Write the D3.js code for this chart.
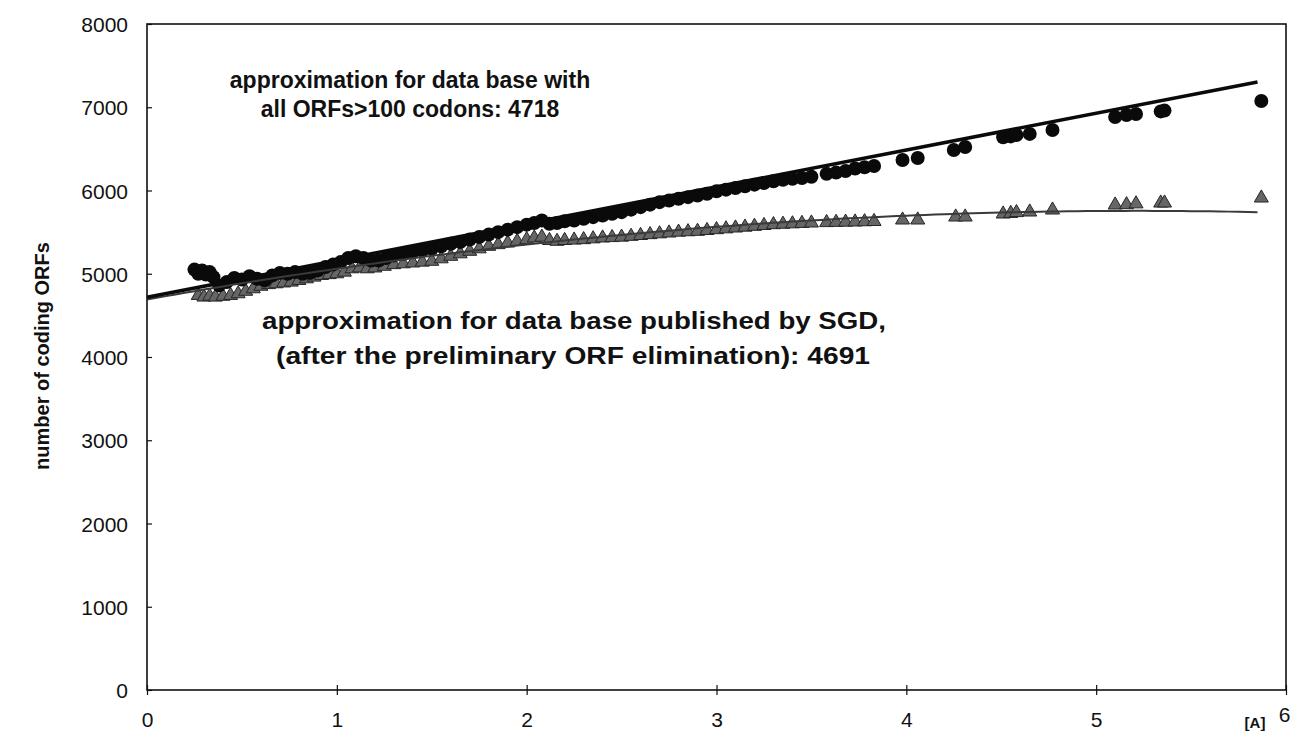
<!DOCTYPE html>
<html>
<head>
<meta charset="utf-8">
<script src="https://cdn.jsdelivr.net/npm/d3@7"></script>
<style>
  body { margin: 0; background: #fff; }
  svg { display: block; font-family: Arial, "Liberation Sans", sans-serif; }
  .tick text { font-size: 21px; fill: #111; }
  .note { font-weight: bold; fill: #111; }
</style>
</head>
<body>
<div id="chart"></div>
<script>
// threshold [A] vs number of coding ORFs
const circleX = [0.25, 0.27, 0.29, 0.31, 0.33, 0.35, 0.38, 0.42, 0.46, 0.50, 0.54, 0.58, 0.62, 0.66, 0.70, 0.74, 0.78, 0.82, 0.86, 0.90, 0.94, 0.98, 1.02, 1.06, 1.10, 1.14, 1.18, 1.22, 1.26, 1.30, 1.35, 1.40, 1.45, 1.50, 1.55, 1.60, 1.65, 1.70, 1.75, 1.80, 1.85, 1.90, 1.95, 2.00, 2.04, 2.08, 2.12, 2.16, 2.20, 2.25, 2.30, 2.35, 2.40, 2.45, 2.50, 2.55, 2.60, 2.65, 2.70, 2.75, 2.80, 2.85, 2.90, 2.95, 3.00, 3.05, 3.10, 3.15, 3.20, 3.25, 3.30, 3.35, 3.40, 3.45, 3.50, 3.58, 3.63, 3.68, 3.73, 3.78, 3.83, 3.98, 4.06, 4.25, 4.31, 4.51, 4.55, 4.58, 4.65, 4.77, 5.10, 5.16, 5.21, 5.34, 5.36, 5.87];
const circleY = [5050, 5000, 5040, 4990, 5020, 4960, 4860, 4900, 4950, 4930, 4970, 4940, 4920, 4980, 5010, 5000, 5020, 5000, 5010, 5040, 5080, 5110, 5140, 5190, 5210, 5190, 5160, 5160, 5190, 5220, 5240, 5260, 5280, 5300, 5330, 5360, 5380, 5410, 5440, 5470, 5500, 5530, 5560, 5590, 5610, 5640, 5600, 5610, 5630, 5640, 5660, 5680, 5700, 5720, 5740, 5770, 5800, 5830, 5860, 5880, 5900, 5920, 5940, 5960, 5990, 6010, 6030, 6050, 6070, 6090, 6110, 6130, 6140, 6150, 6165, 6200, 6215, 6235, 6265, 6280, 6295, 6366, 6390, 6486, 6523, 6640, 6650, 6667, 6680, 6727, 6883, 6907, 6919, 6950, 6960, 7075];

const triX = [0.27, 0.30, 0.33, 0.36, 0.40, 0.44, 0.48, 0.52, 0.56, 0.60, 0.64, 0.68, 0.72, 0.76, 0.80, 0.84, 0.88, 0.92, 0.96, 1.00, 1.04, 1.08, 1.12, 1.16, 1.20, 1.25, 1.30, 1.35, 1.40, 1.45, 1.50, 1.55, 1.60, 1.65, 1.70, 1.75, 1.80, 1.85, 1.90, 1.95, 2.00, 2.04, 2.08, 2.12, 2.16, 2.20, 2.25, 2.30, 2.35, 2.40, 2.45, 2.50, 2.55, 2.60, 2.65, 2.70, 2.75, 2.80, 2.85, 2.90, 2.95, 3.00, 3.05, 3.10, 3.15, 3.20, 3.25, 3.30, 3.35, 3.40, 3.45, 3.50, 3.58, 3.63, 3.68, 3.73, 3.78, 3.83, 3.98, 4.06, 4.26, 4.31, 4.51, 4.55, 4.58, 4.65, 4.77, 5.10, 5.16, 5.21, 5.34, 5.36, 5.87];
const triY = [4740, 4720, 4730, 4720, 4730, 4740, 4760, 4790, 4820, 4850, 4870, 4880, 4890, 4900, 4920, 4940, 4960, 4980, 4990, 5000, 5020, 5060, 5070, 5060, 5070, 5090, 5110, 5120, 5130, 5140, 5150, 5180, 5210, 5240, 5270, 5300, 5330, 5350, 5370, 5390, 5410, 5430, 5440, 5400, 5390, 5400, 5405, 5410, 5420, 5430, 5435, 5440, 5450, 5460, 5470, 5480, 5490, 5500, 5505, 5510, 5520, 5530, 5540, 5550, 5560, 5570, 5580, 5590, 5595, 5600, 5605, 5610, 5615, 5618, 5620, 5622, 5625, 5628, 5646, 5646, 5682, 5682, 5718, 5725, 5735, 5742, 5766, 5826, 5830, 5840, 5850, 5850, 5910];

// trend lines: intercept, slope, quadratic term
const fitAll = [4718, 442, 0];
const fitSGD = [4691, 408, -39.1];
const fitEnd = 5.85;

const xTicks = [0, 1, 2, 3, 4, 5, 6];
const yTicks = [0, 1000, 2000, 3000, 4000, 5000, 6000, 7000, 8000];

const labelAll = ["approximation for data base with", "all ORFs>100 codons: 4718"];
const labelSGD = ["approximation for data base published by SGD,", "(after the preliminary ORF elimination): 4691"];
const yTitle = "number of coding ORFs";
const xUnit = "[A]";

const width = 1293, height = 732;
const svg = d3.select("#chart").append("svg")
  .attr("width", width).attr("height", height);

const x = d3.scaleLinear().domain([0, 6]).range([147, 1286]);
const y = d3.scaleLinear().domain([0, 8000]).range([690, 24]);

// frame
svg.append("rect")
  .attr("x", x(0)).attr("y", y(8000))
  .attr("width", x(6) - x(0)).attr("height", y(0) - y(8000))
  .attr("fill", "none").attr("stroke", "#111").attr("stroke-width", 1.6);

const yAxis = svg.append("g")
  .attr("transform", `translate(${x(0)},0)`)
  .call(d3.axisLeft(y).tickValues(yTicks).tickFormat(d3.format("d")).tickSize(5).tickPadding(14));
yAxis.select(".domain").remove();
yAxis.selectAll(".tick line").attr("x2", 5).attr("stroke", "#111").attr("stroke-width", 1.2);
yAxis.selectAll(".tick text").attr("dy", "0.36em");

const xAxis = svg.append("g")
  .attr("transform", `translate(0,${y(0)})`)
  .call(d3.axisBottom(x).tickValues(xTicks).tickFormat(d3.format("d")).tickSize(5).tickPadding(17));
xAxis.select(".domain").remove();
xAxis.selectAll(".tick line").attr("y2", -5).attr("y1", 5).attr("stroke", "#111").attr("stroke-width", 1.2);
xAxis.selectAll(".tick text").attr("dy", "0.71em");
xAxis.selectAll(".tick text").filter(d => d === 6).attr("dx", -2).attr("y", 17);

const triData = triX.map((d, i) => [d, triY[i]]);
const circData = circleX.map((d, i) => [d, circleY[i]]);

svg.append("g").selectAll("path")
  .data(triData)
  .join("path")
  .attr("transform", d => `translate(${x(d[0])},${y(d[1])})`)
  .attr("d", d3.symbol(d3.symbolTriangle, 85))
  .attr("fill", "#666")
  .attr("stroke", "#262626")
  .attr("stroke-width", 1);

svg.append("g").selectAll("circle")
  .data(circData)
  .join("circle")
  .attr("cx", d => x(d[0]))
  .attr("cy", d => y(d[1]))
  .attr("r", 7)
  .attr("fill", "#0a0a0a");

// trend lines
const fitLine = (c) => d3.line()
  .x(t => x(t))
  .y(t => y(c[0] + c[1] * t + c[2] * t * t));
const steps = d3.range(0, fitEnd + 0.001, 0.05);

svg.append("path")
  .attr("d", fitLine(fitSGD)(steps))
  .attr("fill", "none").attr("stroke", "#3a3a3a").attr("stroke-width", 2);

svg.append("path")
  .attr("d", fitLine(fitAll)([0, fitEnd]))
  .attr("fill", "none").attr("stroke", "#0a0a0a").attr("stroke-width", 3.5);

// annotations
svg.append("text").attr("class", "note")
  .attr("font-size", 23)
  .attr("text-anchor", "middle")
  .selectAll("tspan").data(labelAll).join("tspan")
  .attr("x", 410).attr("y", (d, i) => 88 + i * 29)
  .text(d => d);

const sgdWidths = [624, 594];
svg.append("g").selectAll("text")
  .data(labelSGD).join("text")
  .attr("class", "note")
  .attr("font-size", 24)
  .attr("x", (d, i) => i === 0 ? 262 : 276)
  .attr("y", (d, i) => 329 + i * 35)
  .attr("textLength", (d, i) => sgdWidths[i])
  .attr("lengthAdjust", "spacingAndGlyphs")
  .text(d => d);

svg.append("text").attr("class", "note")
  .attr("font-size", 20)
  .attr("transform", "translate(49,356) rotate(-90)")
  .attr("text-anchor", "middle")
  .text(yTitle);

svg.append("text")
  .attr("x", 1255).attr("y", 728)
  .attr("text-anchor", "middle")
  .attr("font-size", 15).attr("font-weight", "bold").attr("fill", "#111")
  .text(xUnit);
</script>
</body>
</html>
